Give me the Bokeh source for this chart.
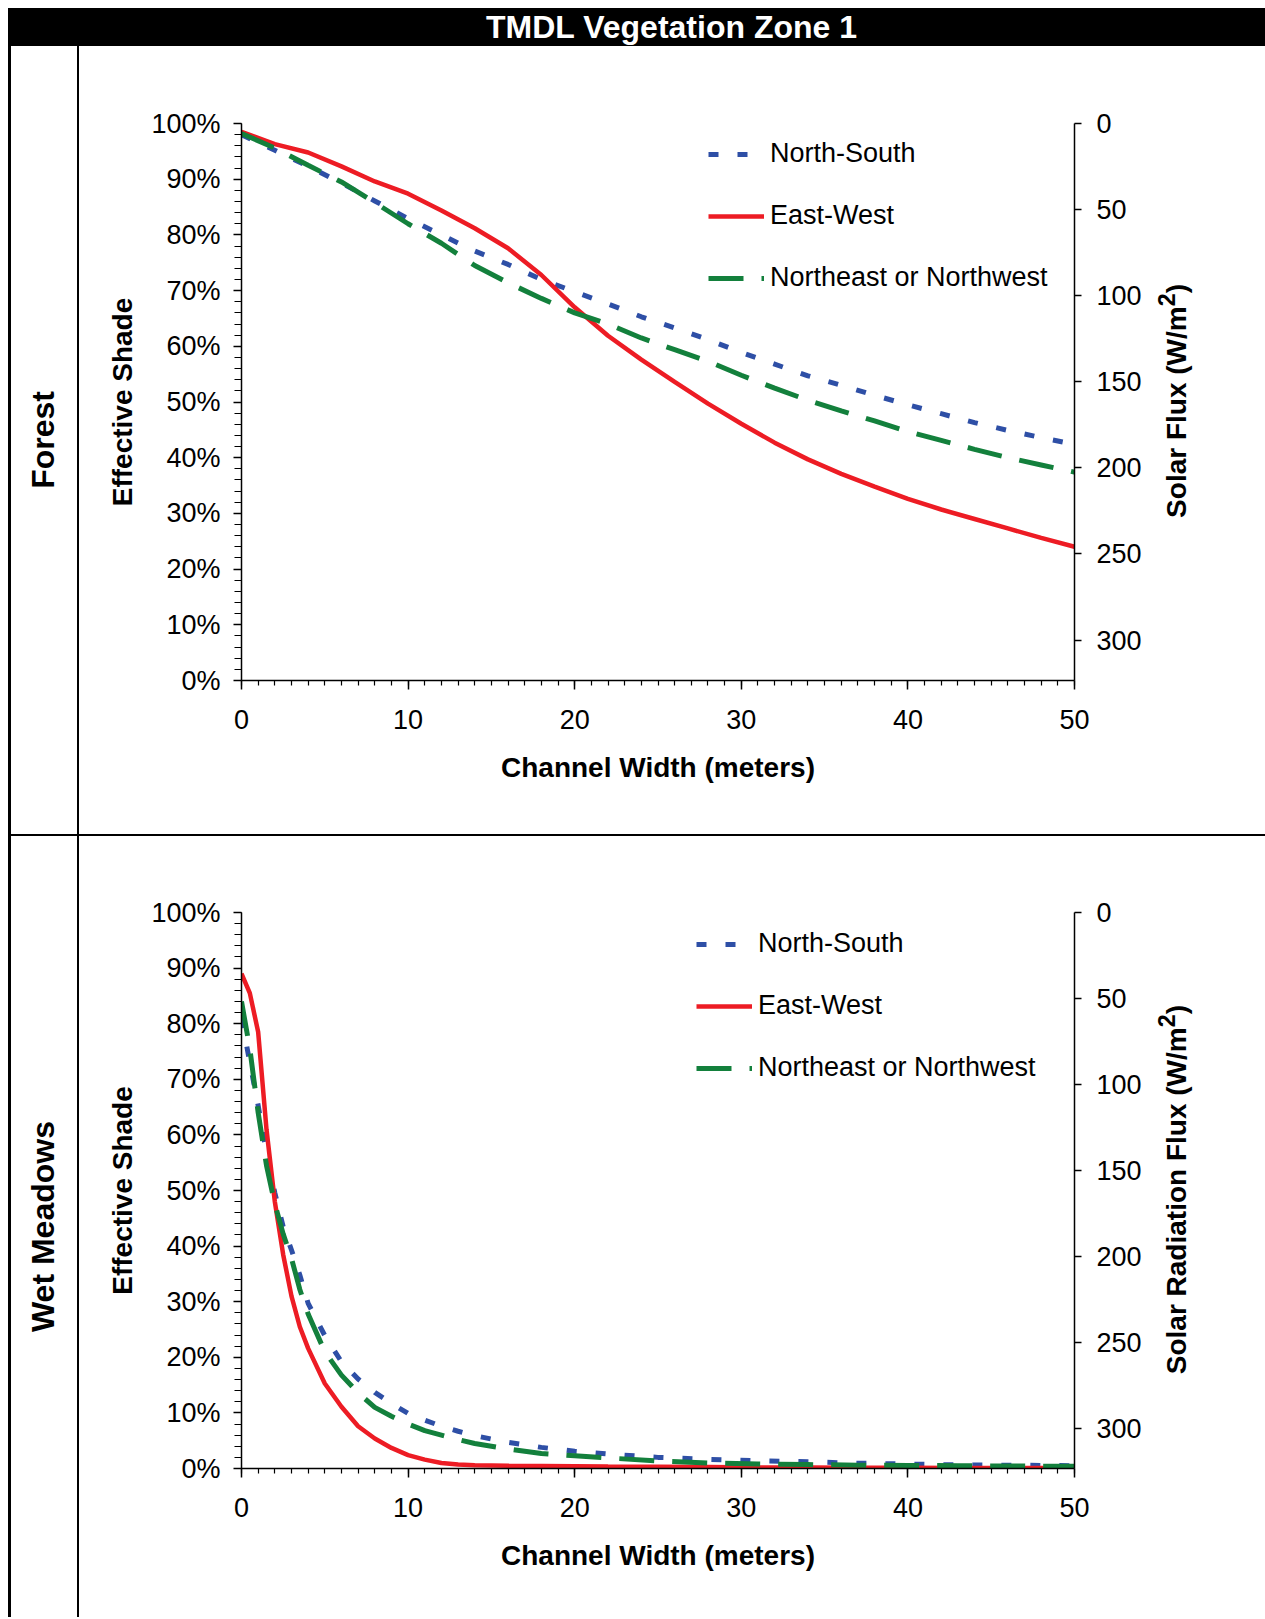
from bokeh.plotting import figure
from bokeh.models import (Range1d, LinearAxis, FixedTicker, PrintfTickFormatter,
                          Legend, LegendItem, Div, Spacer)
from bokeh.layouts import column, row
from bokeh.embed import file_html
from bokeh.resources import INLINE

# ---------------- data ----------------
TITLE = "TMDL Vegetation Zone 1"
SERIES = ["North-South", "East-West", "Northeast or Northwest"]

forest_width = [0, 2, 4, 6, 8, 10, 12, 14, 16, 18, 20, 22, 24, 26, 28, 30,
                32, 34, 36, 38, 40, 42, 44, 46, 48, 50]
forest_ns = [98.0, 95.2, 92.3, 89.3, 86.1, 82.9, 80.0, 77.1, 74.7, 72.0, 69.8,
             67.6, 65.3, 63.3, 61.2, 58.9, 56.8, 54.7, 53.0, 51.2, 49.5, 47.9,
             46.3, 44.9, 43.6, 42.4]
forest_ew = [98.5, 96.3, 94.8, 92.3, 89.6, 87.4, 84.4, 81.2, 77.6, 72.8, 67.0,
             61.9, 57.6, 53.6, 49.7, 46.1, 42.7, 39.7, 37.1, 34.8, 32.6, 30.7,
             29.0, 27.3, 25.6, 24.0]
forest_ne = [98.2, 95.6, 92.5, 89.5, 85.8, 82.0, 78.5, 74.5, 71.4, 68.6, 66.0,
             64.0, 61.5, 59.4, 57.3, 54.8, 52.5, 50.3, 48.4, 46.6, 44.7, 43.1,
             41.5, 40.0, 38.7, 37.4]

meadow_width = [0, 0.5, 1, 1.5, 2, 2.5, 3, 3.5, 4, 5, 6, 7, 8, 9, 10, 11, 12,
                13, 14, 16, 18, 20, 22, 25, 28, 31, 34, 37, 40, 43, 46, 50]
meadow_ns = [81.0, 73.0, 65.3, 56.6, 49.6, 43.5, 39.3, 34.8, 29.7, 23.9, 19.2,
             16.1, 13.7, 11.7, 9.9, 8.7, 7.6, 6.7, 5.9, 4.7, 3.8, 3.1, 2.6, 2.0,
             1.65, 1.4, 1.2, 0.95, 0.8, 0.65, 0.6, 0.5]
meadow_ew = [89.0, 85.5, 78.5, 61.0, 48.0, 38.5, 31.0, 25.5, 21.6, 15.3, 11.1,
             7.6, 5.4, 3.7, 2.4, 1.6, 1.0, 0.7, 0.6, 0.5, 0.45, 0.4, 0.35, 0.3,
             0.25, 0.2, 0.2, 0.15, 0.15, 0.1, 0.1, 0.1]
meadow_ne = [84.0, 75.5, 64.0, 54.5, 47.6, 42.2, 37.8, 32.2, 27.8, 21.0, 16.8,
             13.6, 11.0, 9.4, 8.0, 6.8, 6.0, 5.2, 4.5, 3.5, 2.7, 2.3, 1.9, 1.35,
             1.0, 0.8, 0.7, 0.6, 0.55, 0.5, 0.45, 0.4]

x_ticks = [0, 10, 20, 30, 40, 50]
x_minor = list(range(0, 51))
y_ticks = [0, 10, 20, 30, 40, 50, 60, 70, 80, 90, 100]
y_minor = list(range(0, 101, 2))
flux_ticks = [0, 50, 100, 150, 200, 250, 300]
FLUX_MAX = 323.5

FONT = "Liberation Sans"
BLUE = "#2E4FA6"
RED = "#ED1C24"
GREEN = "#13803C"


def make_chart(width_m, ns, ew, ne, h, top, bottom, legend_x, legend_y):
    p = figure(width=1075, height=h, x_range=Range1d(0, 50), y_range=Range1d(0, 100),
               output_backend="svg", toolbar_location=None,
               min_border_left=162, min_border_right=80,
               min_border_top=top, min_border_bottom=bottom, margin=0)
    p.outline_line_color = None
    p.xgrid.visible = False
    p.ygrid.visible = False
    p.background_fill_color = "white"
    p.border_fill_color = "white"

    xa = p.xaxis[0]
    xa.ticker = FixedTicker(ticks=x_ticks, minor_ticks=x_minor)
    xa.axis_label = "Channel Width (meters)"
    ya = p.yaxis[0]
    ya.ticker = FixedTicker(ticks=y_ticks, minor_ticks=y_minor)
    ya.formatter = PrintfTickFormatter(format="%d%%")
    ya.axis_label = "Effective Shade"

    p.extra_y_ranges = {"flux": Range1d(start=FLUX_MAX, end=0)}
    ra = LinearAxis(y_range_name="flux", ticker=FixedTicker(ticks=flux_ticks, minor_ticks=[]))
    p.add_layout(ra, "right")

    for ax in (xa, ya, ra):
        ax.axis_line_color = "black"
        ax.axis_line_width = 1.5
        ax.major_tick_line_color = "black"
        ax.major_tick_line_width = 1.5
        ax.minor_tick_line_color = "black"
        ax.minor_tick_line_width = 1.2
        ax.major_tick_in = 0
        ax.minor_tick_in = 0
        ax.major_label_text_font = FONT
        ax.major_label_text_font_size = "27px"
        ax.major_label_text_color = "black"
        ax.axis_label_text_font = FONT
        ax.axis_label_text_font_size = "28px"
        ax.axis_label_text_font_style = "bold"
        ax.axis_label_text_color = "black"

    xa.major_tick_out = 9
    xa.minor_tick_out = 5
    xa.major_label_standoff = 20
    xa.axis_label_standoff = 20
    ya.major_tick_out = 8
    ya.minor_tick_out = 7
    ya.major_label_standoff = 13
    ya.axis_label_standoff = 10
    ra.major_tick_out = 7
    ra.minor_tick_out = 0
    ra.major_label_standoff = 15

    r_ns = p.line(width_m, ns, line_color=BLUE, line_width=5, line_dash="10 19")
    r_ew = p.line(width_m, ew, line_color=RED, line_width=4.5)
    r_ne = p.line(width_m, ne, line_color=GREEN, line_width=5, line_dash="35 18")

    legend = Legend(items=[LegendItem(label=SERIES[0], renderers=[r_ns]),
                           LegendItem(label=SERIES[1], renderers=[r_ew]),
                           LegendItem(label=SERIES[2], renderers=[r_ne])],
                    location=(legend_x, legend_y),
                    glyph_width=56, glyph_height=30, label_height=30,
                    label_standoff=6, spacing=31, padding=0, margin=0,
                    border_line_color=None, background_fill_alpha=0,
                    label_text_font=FONT, label_text_font_size="27px",
                    label_text_color="black")
    p.add_layout(legend, "center")
    return p


p1 = make_chart(forest_width, forest_ns, forest_ew, forest_ne, 788, 77, 154, 467, 387)
p2 = make_chart(meadow_width, meadow_ns, meadow_ew, meadow_ne, 781, 76, 149, 455, 385)


def block(w, h):
    return Div(text="", width=w, height=h, margin=0,
               styles={"background-color": "black"})


def gap(w, h):
    return Spacer(width=w, height=h, margin=0)


def vertical_text(text, w, h, box_w, box_h, size):
    html = ('<div style="width:%dpx;height:%dpx;display:flex;align-items:center;'
            'justify-content:center;">'
            '<div style="writing-mode:vertical-rl;transform:rotate(180deg);'
            'font-family:\'Liberation Sans\';font-weight:bold;font-size:%dpx;'
            'color:black;white-space:nowrap;line-height:1.1;">%s</div></div>') % (
                box_w, box_h, size, text)
    return Div(text=html, width=w, height=h, margin=0)


title_html = ('<div style="padding-left:478px;line-height:38px;height:38px;'
              'font-family:\'Liberation Sans\';font-weight:bold;font-size:32px;'
              'color:white;white-space:nowrap;">%s</div>') % TITLE
title_div = Div(text=title_html, width=1257, height=38, margin=0,
                styles={"background-color": "black"})

right1 = vertical_text("Solar Flux (W/m<sup>2</sup>)", 111, 788, 40, 2 * (77 + 278), 28)
right2 = vertical_text("Solar Radiation Flux (W/m<sup>2</sup>)", 111, 781, 40, 2 * (76 + 278), 28)

layout = column(
    gap(1265, 8),
    row(gap(8, 38), title_div, margin=0),
    row(gap(8, 788), block(3, 788), vertical_text("Forest", 66, 788, 66, 788, 32),
        block(2, 788), p1, right1, margin=0),
    row(gap(8, 2), block(1257, 2), margin=0),
    row(gap(8, 781), block(3, 781), vertical_text("Wet Meadows", 66, 781, 66, 781, 32),
        block(2, 781), p2, right2, margin=0),
    margin=0,
)

open("out.html", "w").write(file_html(layout, INLINE))
